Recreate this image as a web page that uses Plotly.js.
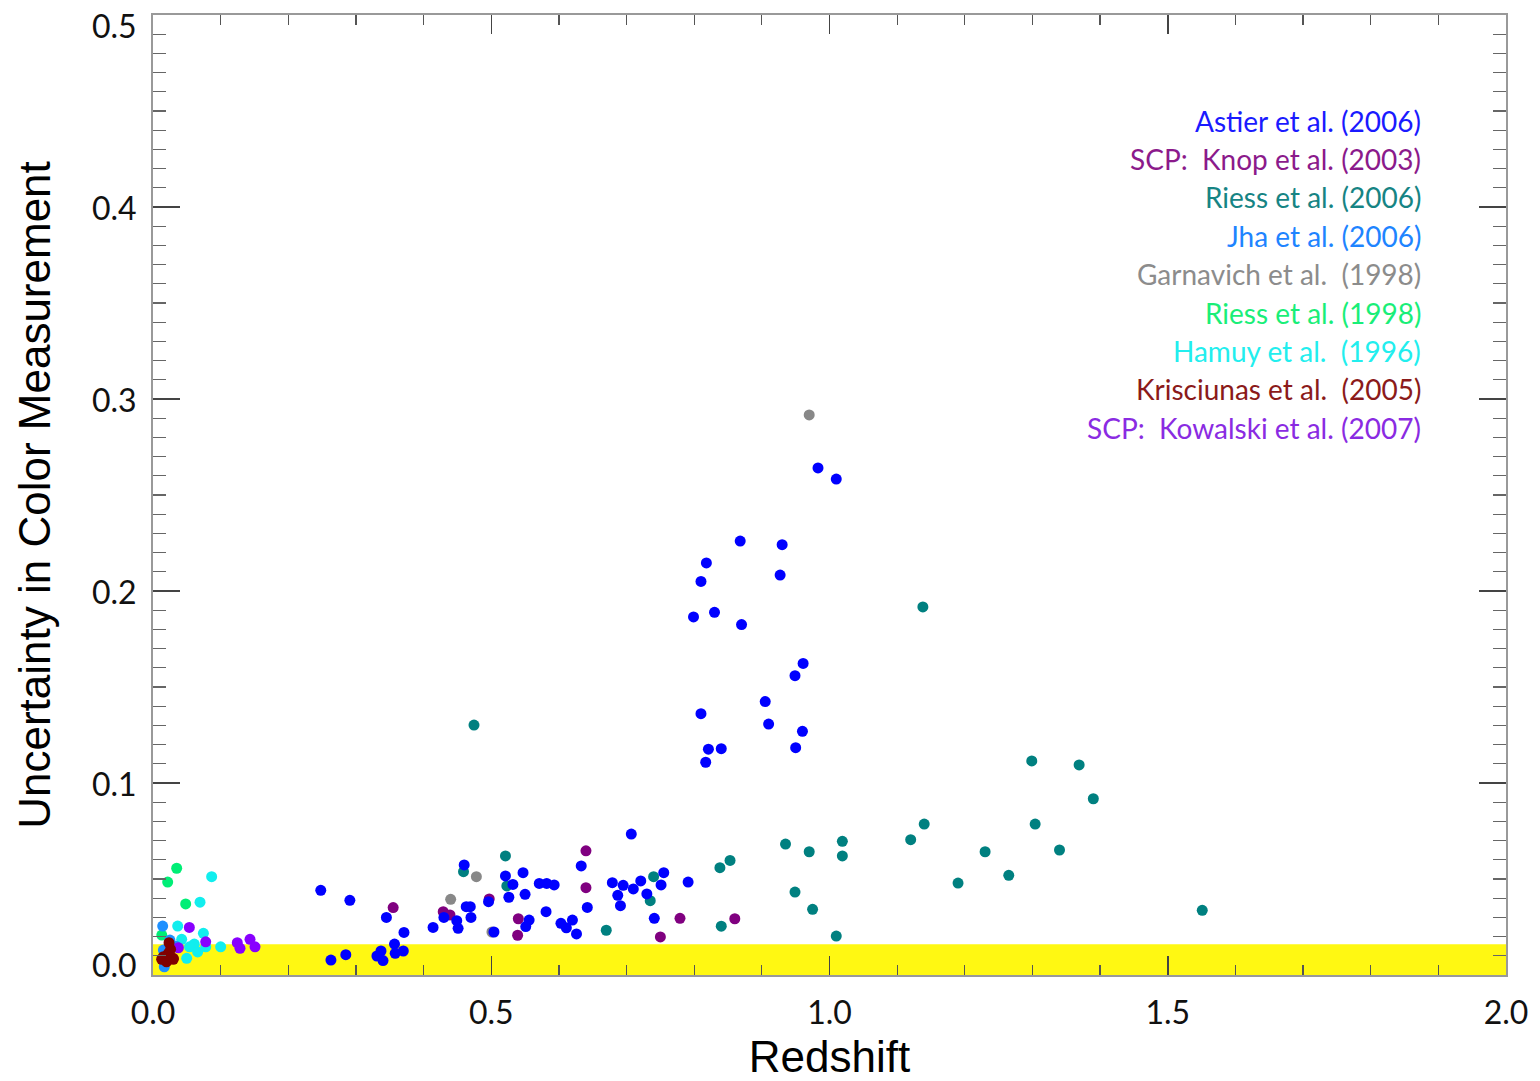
<!DOCTYPE html>
<html>
<head>
<meta charset="utf-8">
<script src="https://cdn.plot.ly/plotly-3.0.1.min.js"></script>
<style>
  html, body { margin: 0; padding: 0; background: #ffffff; }
  #chart { width: 1540px; height: 1081px; }
</style>
</head>
<body>
<div id="chart"></div>
<script>
// Supernova samples: redshift vs. uncertainty in colour measurement

const garnavichZ = [0.440, 0.478, 0.501, 0.970];
const garnavichErr = [0.0394, 0.0512, 0.0224, 0.2917];

const riess06Z = [0.4745, 0.459, 0.521, 0.523, 0.670, 0.740, 0.735, 0.838, 0.853, 0.840,
                  0.935, 0.970, 1.019, 1.019, 0.949, 0.975, 1.010, 1.120, 1.140, 1.190,
                  1.230, 1.265, 1.304, 1.340, 1.390, 1.299, 1.369, 1.138, 1.551];
const riess06Err = [0.1302, 0.0538, 0.0620, 0.0464, 0.0233, 0.0512, 0.0387, 0.0559, 0.0597, 0.0254,
                    0.0682, 0.0642, 0.0696, 0.0620, 0.0432, 0.0342, 0.0203, 0.0705, 0.0786, 0.0479,
                    0.0642, 0.0519, 0.0786, 0.0651, 0.0918, 0.1115, 0.1094, 0.1917, 0.0337];

const knopZ = [0.355, 0.429, 0.439, 0.497, 0.540, 0.539, 0.640, 0.640, 0.779, 0.750, 0.860];
const knopErr = [0.0351, 0.0330, 0.0313, 0.0396, 0.0293, 0.0207, 0.0647, 0.0455, 0.0295, 0.0198, 0.0293];

const riess98Z = [0.035, 0.0217, 0.0483, 0.013];
const riess98Err = [0.0556, 0.0484, 0.0370, 0.0208];

const hamuyZ = [0.0867, 0.0695, 0.0365, 0.0745, 0.0424, 0.061, 0.078, 0.100, 0.0498, 0.054, 0.066];
const hamuyErr = [0.0512, 0.0379, 0.0255, 0.0217, 0.0186, 0.0161, 0.0147, 0.0147, 0.0087, 0.0147, 0.0120];

const jhaZ = [0.0143, 0.025, 0.0167, 0.0153, 0.020, 0.034];
const jhaErr = [0.0255, 0.0182, 0.0043, 0.0130, 0.0100, 0.0150];

const kowalskiZ = [0.0537, 0.0779, 0.1246, 0.1286, 0.1434, 0.1508, 0.0375];
const kowalskiErr = [0.0248, 0.0173, 0.0168, 0.0139, 0.0186, 0.0147, 0.0142];

const astierZ = [0.248, 0.291, 0.345, 0.371, 0.263, 0.285, 0.331, 0.337, 0.340, 0.357,
                 0.358, 0.370, 0.414, 0.430, 0.449, 0.451, 0.460, 0.463, 0.469, 0.470,
                 0.496, 0.504, 0.521, 0.532, 0.526, 0.547, 0.550, 0.556, 0.551, 0.571,
                 0.582, 0.593, 0.581, 0.603, 0.611, 0.620, 0.626, 0.633, 0.642, 0.707,
                 0.679, 0.695, 0.687, 0.691, 0.710, 0.721, 0.730, 0.741, 0.751, 0.755,
                 0.791, 0.983, 1.010, 0.868, 0.930, 0.818, 0.810, 0.927, 0.799, 0.830,
                 0.870, 0.961, 0.949, 0.905, 0.810, 0.910, 0.960, 0.821, 0.840, 0.950,
                 0.817];
const astierErr = [0.0441, 0.0389, 0.0300, 0.0222, 0.0078, 0.0106, 0.0099, 0.0125, 0.0075, 0.0161,
                   0.0113, 0.0125, 0.0248, 0.0300, 0.0283, 0.0243, 0.0573, 0.0356, 0.0356, 0.0300,
                   0.0382, 0.0224, 0.0516, 0.0472, 0.0405, 0.0533, 0.0420, 0.0286, 0.0252, 0.0477,
                   0.0477, 0.0469, 0.0330, 0.0269, 0.0246, 0.0286, 0.0214, 0.0568, 0.0352, 0.0734,
                   0.0481, 0.0467, 0.0415, 0.0361, 0.0448, 0.0490, 0.0422, 0.0295, 0.0469, 0.0533,
                   0.0484, 0.2641, 0.2583, 0.2260, 0.2241, 0.2146, 0.2050, 0.2083, 0.1865, 0.1889,
                   0.1825, 0.1623, 0.1559, 0.1424, 0.1361, 0.1307, 0.1269, 0.1176, 0.1179, 0.1184,
                   0.1108];

const krisciunasZ = [0.0237, 0.0128, 0.0227, 0.030, 0.020, 0.026, 0.0153, 0.030];
const krisciunasErr = [0.0168, 0.0082, 0.0113, 0.0082, 0.0069, 0.0134, 0.0095, 0.0087];

// Axis tick positions and labels
const xTicks = [0, 0.5, 1.0, 1.5, 2.0];
const yTicks = [0, 0.1, 0.2, 0.3, 0.4, 0.5];
const yTickLabels = ['0.0', '0.1', '0.2', '0.3', '0.4', '0.5'];

// Caption lines listed top to bottom, with their colours
const legendLabels = [
  'Astier et al. (2006)',
  'SCP:  Knop et al. (2003)',
  'Riess et al. (2006)',
  'Jha et al. (2006)',
  'Garnavich et al.  (1998)',
  'Riess et al. (1998)',
  'Hamuy et al.  (1996)',
  'Krisciunas et al.  (2005)',
  'SCP:  Kowalski et al. (2007)'
];
const legendColors = ['#1a1aff', '#8b1a8b', '#168484', '#1e84ff', '#8c8c8c',
                      '#19ee78', '#22eeee', '#8b1a1a', '#8a2be2'];
const legendY = [0.445, 0.425, 0.405, 0.385, 0.365, 0.345, 0.325, 0.305, 0.285];

// Acceptable-uncertainty band
const bandTop = 0.016;

function pts(name, x, y, color) {
  return {
    type: 'scatter', mode: 'markers', name: name, x: x, y: y,
    marker: { color: color, size: 11, line: { width: 0 } },
    showlegend: false, hoverinfo: 'x+y+name'
  };
}

const traces = [
  pts('Garnavich et al. (1998)', garnavichZ, garnavichErr, '#888888'),
  pts('Riess et al. (2006)', riess06Z, riess06Err, '#008080'),
  pts('Knop et al. (2003)', knopZ, knopErr, '#800080'),
  pts('Riess et al. (1998)', riess98Z, riess98Err, '#00ee76'),
  pts('Hamuy et al. (1996)', hamuyZ, hamuyErr, '#11eeee'),
  pts('Jha et al. (2006)', jhaZ, jhaErr, '#1e90ff'),
  pts('Kowalski et al. (2007)', kowalskiZ, kowalskiErr, '#8800ff'),
  pts('Astier et al. (2006)', astierZ, astierErr, '#0000ff'),
  pts('Krisciunas et al. (2005)', krisciunasZ, krisciunasErr, '#800000')
];

const tickFont = { family: 'Lato, "Open Sans", sans-serif', size: 32, color: '#111111' };
const titleFont = { family: '"Liberation Sans", Arial, sans-serif', size: 44, color: '#000000' };

// Series captions in the upper right of the plot
const annotations = legendLabels.map((t, i) => ({
  x: 1.877, y: legendY[i], xref: 'x', yref: 'y',
  text: t, showarrow: false, xanchor: 'right', yanchor: 'middle',
  font: { family: 'Lato, "Open Sans", sans-serif', size: 28, color: legendColors[i] }
}));

// Y tick labels: the end labels are nudged inward so they stay inside the frame height
const yMin = yTicks[0], yMax = yTicks[yTicks.length - 1];
yTicks.forEach((v, i) => {
  annotations.push({
    x: 0, y: v, xref: 'paper', yref: 'y',
    text: yTickLabels[i], showarrow: false, xanchor: 'right', yanchor: 'middle',
    xshift: -14, yshift: v === yMax ? -10 : (v === yMin ? 11 : 0),
    font: tickFont
  });
});

const layout = {
  width: 1540, height: 1081,
  margin: { l: 153, r: 34, t: 15, b: 106 },
  paper_bgcolor: '#ffffff', plot_bgcolor: '#ffffff',
  showlegend: false,
  xaxis: {
    range: [0, 2], tickmode: 'array', tickvals: xTicks, tickformat: '.1f',
    ticks: 'inside', ticklen: 19, tickwidth: 1.5, tickcolor: '#444444',
    minor: { dtick: 0.1, tick0: 0, ticks: 'inside', ticklen: 10, tickwidth: 1.2, tickcolor: '#555555', showgrid: false },
    showline: true, linecolor: '#999999', linewidth: 2, mirror: 'ticks',
    showgrid: false, zeroline: false,
    tickfont: tickFont, ticklabelstandoff: 9, ticklabeloverflow: 'allow',
    title: { text: 'Redshift', font: titleFont, standoff: 21 },
    automargin: false
  },
  yaxis: {
    range: [yMin, yMax], tickmode: 'array', tickvals: yTicks,
    showticklabels: false,
    ticks: 'inside', ticklen: 27, tickwidth: 1.5, tickcolor: '#444444',
    minor: { dtick: 0.01, tick0: 0, ticks: 'inside', ticklen: 13, tickwidth: 1.2, tickcolor: '#666666', showgrid: false },
    showline: true, linecolor: '#999999', linewidth: 2, mirror: 'ticks',
    showgrid: false, zeroline: false,
    title: { text: 'Uncertainty in Color Measurement', font: titleFont, standoff: 87 },
    automargin: false
  },
  shapes: [{
    type: 'rect', layer: 'below', xref: 'paper', yref: 'y',
    x0: 0, x1: 1, y0: 0, y1: bandTop,
    fillcolor: '#fff812', line: { width: 0 }
  }],
  annotations: annotations
};

Plotly.newPlot('chart', traces, layout, { displayModeBar: false, staticPlot: true });
</script>
</body>
</html>
